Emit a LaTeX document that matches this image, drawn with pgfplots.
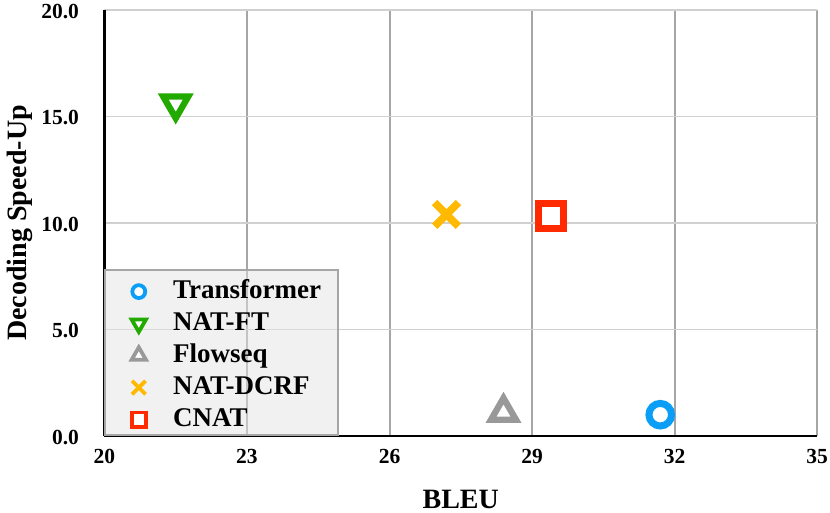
\documentclass[border=0pt]{standalone}
\usepackage{fontspec}
\setmainfont{Liberation Serif}
\usepackage{pgfplots}
\pgfplotsset{compat=1.18}
\definecolor{cblue}{HTML}{0A9EF7}
\definecolor{cgreen}{HTML}{22AA00}
\definecolor{cgray}{HTML}{999999}
\definecolor{corange}{HTML}{FFB900}
\definecolor{cred}{HTML}{FF2A00}
\definecolor{vgrid}{HTML}{A6A6A6}
\definecolor{hgrid}{HTML}{D0D0D0}
\begin{document}
\begin{tikzpicture}
\useasboundingbox (-104.5pt,-76pt) rectangle (725.5pt,436pt);
\begin{axis}[
  at={(0pt,0pt)}, anchor=south west,
  scale only axis, width=712.5pt, height=426pt,
  xmin=20, xmax=35, ymin=0, ymax=20,
  xtick={20,23,26,29,32,35}, ytick={0,5,10,15,20},
  xticklabels={20,23,26,29,32,35},
  yticklabels={0.0,5.0,10.0,15.0,20.0},
  axis lines=left,
  axis line style={-, black, line width=2.2pt},
  major tick length=0pt,
  xmajorgrids, ymajorgrids,
  x grid style={vgrid, line width=2pt},
  y grid style={hgrid, line width=1.6pt},
  every tick label/.append style={font=\fontsize{21.5}{25}\selectfont\bfseries},
  yticklabel style={xshift=-22pt, yshift=-1.5pt},
  xticklabel style={yshift=-10pt},
  xlabel={BLEU},
  ylabel={Decoding Speed-Up},
  every axis x label/.style={at={(axis description cs:0.5,-0.148)}, anchor=center, inner sep=1.5pt, font=\fontsize{28}{32}\selectfont\bfseries},
  every axis y label/.style={at={(axis description cs:-0.119,0.5)}, anchor=center, rotate=90, font=\fontsize{28}{32}\selectfont\bfseries},
  clip=false,
  legend cell align=left,
  legend style={at={(0,0)}, anchor=south west,
    font=\fontsize{27}{30}\selectfont\bfseries,
    draw=vgrid, line width=1.8pt,
    fill=black!11, fill opacity=0.5, text opacity=1, draw opacity=1,
    inner xsep=17pt, inner ysep=6.5pt,
    row sep=8pt, column sep=24pt,
    nodes={inner sep=0pt, text height=22pt, text depth=2pt}},
  legend image code/.code={\path (-6pt,0pt) (17pt,0pt); \draw[#1] plot coordinates {(8.5pt,-3pt)};},
  legend image post style={fill opacity=1, line width=3.8pt, every mark/.append style={scale=0.57}},
]
\addplot[only marks, mark=*, draw=cblue, fill=white, mark size=11.3pt, line width=7pt]
  coordinates {(31.7,1.0)};
\addlegendentry{Transformer}
\addplot[only marks, mark=triangle*, mark options={rotate=180}, draw=cgreen, fill=white, mark size=14.5pt, line width=6.3pt]
  coordinates {(21.5,15.6)};
\addlegendentry{NAT-FT}
\addplot[only marks, mark=triangle*, draw=cgray, fill=white, mark size=14.5pt, line width=6.3pt]
  coordinates {(28.4,1.1)};
\addlegendentry{Flowseq}
\addplot[only marks, mark=x, draw=corange, mark size=16.8pt, line width=7.5pt]
  coordinates {(27.2,10.4)};
\addlegendentry{NAT-DCRF}
\addplot[only marks, mark=square*, draw=cred, fill=white, mark size=12.5pt, line width=7pt]
  coordinates {(29.4,10.35)};
\addlegendentry{CNAT}
\end{axis}
\end{tikzpicture}
\end{document}
